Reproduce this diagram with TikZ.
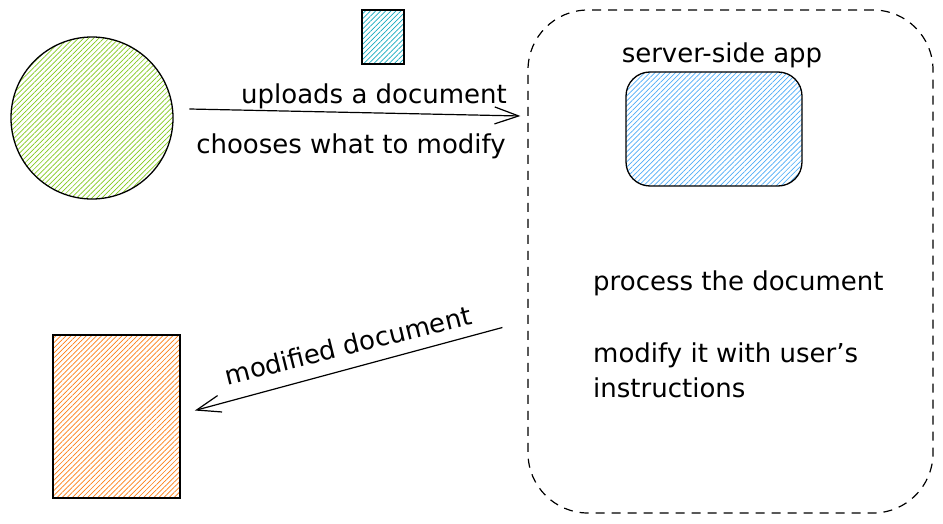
\documentclass[tikz,border=0pt]{standalone}
\usepackage{fontspec}
\setmainfont{DejaVu Sans}
\usetikzlibrary{arrows.meta,positioning,calc,patterns.meta}
\definecolor{ufgreen}{HTML}{82C91E}
\definecolor{ufcyan}{HTML}{15AABF}
\definecolor{ufblue}{HTML}{4DABF7}
\definecolor{uforange}{HTML}{FD7E14}

\begin{document}
\begin{tikzpicture}[x=1pt,y=-1pt,font=\fontsize{26}{35}\selectfont,
  hatch/.style={pattern={Lines[angle=45,distance=3.6pt,line width=.7pt]},pattern color=#1},
  actor/.style={draw,circle,line width=1.3pt,minimum size=162pt,inner sep=0pt,hatch=ufgreen},
  file/.style={draw,line width=1.8pt,inner sep=0pt,minimum width=42pt,minimum height=54pt,hatch=ufcyan},
  server/.style={draw,line width=1.2pt,dash pattern=on 9pt off 7pt,rounded corners=60pt,minimum width=405pt,minimum height=503pt},
  app/.style={draw,line width=1.3pt,rounded corners=24pt,minimum width=176pt,minimum height=114pt,hatch=ufblue},
  lbl/.style={inner sep=0pt},
  arr/.style={-{Straight Barb[length=24pt,width=17pt,line width=1.2pt]},line width=1.2pt}]
\useasboundingbox (0,0) rectangle (943,524);
\node[actor] (user) at (92,118) {};
\node[file] (upload) at (383,37) {};
\node[file,minimum width=127pt,minimum height=163pt,hatch=uforange] (result) at (116.5,416.5) {};
\node[server] (server) at (730.5,261.5) {};
\node[app] (app) at (714,129) {};
\node[lbl] (applbl) at (722,55) {server-side app};
\node[lbl,anchor=west] (step1) at (593,283) {process the document};
\node[lbl,anchor=west,align=left] (step2) at (593,370) {modify it with user's\\instructions};
\node[lbl] (uplbl) at (374,96) {uploads a document};
\node[lbl] (chlbl) at (351,146) {chooses what to modify};
\node[lbl,rotate=14] (modlbl) at (348,345) {modified document};
\draw[arr] ([shift={(16,-9)}]user.east) -- ([shift={(-7,-2)}]server.west |- user.east);
\draw[arr] ([shift={(-25,66)}]server.west) -- ([shift={(14,-6)}]result.east);
\end{tikzpicture}
\end{document}
